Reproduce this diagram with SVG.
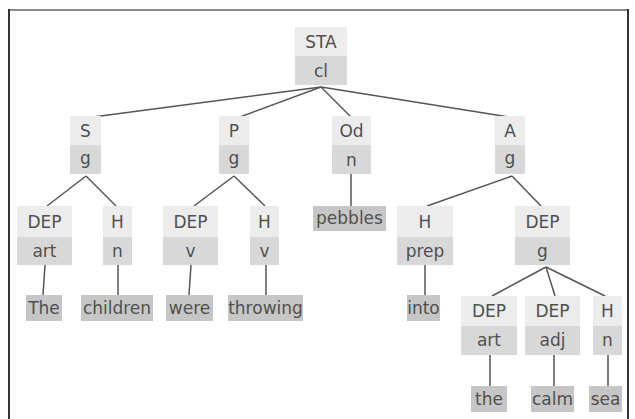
<svg xmlns="http://www.w3.org/2000/svg" width="635" height="419" viewBox="0 0 635 419">
<style>
.u{fill:#ececec}
.l{fill:#d8d8d8}
.f{fill:#c6c6c6}
text{font-family:"DejaVu Sans",sans-serif;font-size:17px;fill:#505050;text-anchor:middle}
.c line{stroke:#555;stroke-width:1.5}
</style>
<rect x="0" y="0" width="635" height="419" fill="#fff"/>
<line x1="9" y1="10" x2="629" y2="10" stroke="#888" stroke-width="2"/>
<line x1="9" y1="9" x2="9" y2="419" stroke="#333" stroke-width="2"/>
<line x1="628" y1="9" x2="628" y2="419" stroke="#333" stroke-width="2"/>
<g class="c" id="connectors">
<line x1="321" y1="87" x2="93" y2="117"/>
<line x1="321" y1="87" x2="240" y2="117"/>
<line x1="321" y1="87" x2="351" y2="117"/>
<line x1="321" y1="87" x2="509" y2="117"/>
<line x1="86" y1="176" x2="47" y2="206"/>
<line x1="86" y1="176" x2="116" y2="206"/>
<line x1="234" y1="176" x2="194" y2="206"/>
<line x1="234" y1="176" x2="265" y2="206"/>
<line x1="351" y1="174" x2="351" y2="206"/>
<line x1="512" y1="176" x2="427" y2="206"/>
<line x1="512" y1="176" x2="541" y2="206"/>
<line x1="45" y1="265" x2="43" y2="295"/>
<line x1="118" y1="265" x2="118" y2="295"/>
<line x1="191" y1="265" x2="189" y2="295"/>
<line x1="266" y1="265" x2="266" y2="295"/>
<line x1="425" y1="265" x2="425" y2="295"/>
<line x1="546" y1="267" x2="492" y2="296"/>
<line x1="546" y1="267" x2="555" y2="296"/>
<line x1="546" y1="267" x2="605" y2="296"/>
<line x1="490" y1="355" x2="490" y2="386"/>
<line x1="554" y1="355" x2="554" y2="386"/>
<line x1="608" y1="355" x2="608" y2="386"/>
</g>
<g id="sta"><rect class="u" x="295" y="27" width="52" height="29"/><rect class="l" x="295" y="56" width="52" height="29"/><text x="321" y="48">STA</text><text x="321" y="77">cl</text></g>
<g id="s"><rect class="u" x="70" y="116" width="31" height="29"/><rect class="l" x="70" y="145" width="31" height="29"/><text x="85.5" y="137">S</text><text x="85.5" y="164">g</text></g>
<g id="p"><rect class="u" x="219" y="116" width="30" height="29"/><rect class="l" x="219" y="145" width="30" height="29"/><text x="234" y="137">P</text><text x="234" y="164">g</text></g>
<g id="od"><rect class="u" x="332" y="116" width="39" height="29"/><rect class="l" x="332" y="145" width="39" height="29"/><text x="351.5" y="137">Od</text><text x="351.5" y="166">n</text></g>
<g id="a"><rect class="u" x="495" y="116" width="30" height="29"/><rect class="l" x="495" y="145" width="30" height="29"/><text x="510" y="137">A</text><text x="510" y="164">g</text></g>
<g id="dep-art"><rect class="u" x="17" y="206" width="55" height="31"/><rect class="l" x="17" y="237" width="55" height="28"/><text x="44.5" y="228">DEP</text><text x="44.5" y="257">art</text></g>
<g id="h-n"><rect class="u" x="103" y="206" width="29" height="31"/><rect class="l" x="103" y="237" width="29" height="28"/><text x="117.5" y="228">H</text><text x="117.5" y="257">n</text></g>
<g id="dep-v"><rect class="u" x="163" y="206" width="55" height="31"/><rect class="l" x="163" y="237" width="55" height="28"/><text x="190.5" y="228">DEP</text><text x="190.5" y="257">v</text></g>
<g id="h-v"><rect class="u" x="250" y="206" width="29" height="31"/><rect class="l" x="250" y="237" width="29" height="28"/><text x="264.5" y="228">H</text><text x="264.5" y="257">v</text></g>
<g id="h-prep"><rect class="u" x="397" y="206" width="56" height="31"/><rect class="l" x="397" y="237" width="56" height="28"/><text x="425" y="228">H</text><text x="425" y="257">prep</text></g>
<g id="dep-g"><rect class="u" x="515" y="206" width="55" height="31"/><rect class="l" x="515" y="237" width="55" height="28"/><text x="542.5" y="228">DEP</text><text x="542.5" y="257">g</text></g>
<g id="dep-art2"><rect class="u" x="461" y="296" width="56" height="30"/><rect class="l" x="461" y="326" width="56" height="29"/><text x="489" y="317">DEP</text><text x="489" y="346">art</text></g>
<g id="dep-adj"><rect class="u" x="525" y="296" width="55" height="30"/><rect class="l" x="525" y="326" width="55" height="29"/><text x="552.5" y="317">DEP</text><text x="552.5" y="346">adj</text></g>
<g id="h-n2"><rect class="u" x="593" y="296" width="29" height="30"/><rect class="l" x="593" y="326" width="29" height="29"/><text x="607.5" y="317">H</text><text x="607.5" y="346">n</text></g>
<g id="w-the"><rect class="f" x="26" y="295" width="36" height="26"/><text x="44" y="314">The</text></g>
<g id="w-children"><rect class="f" x="81" y="295" width="72" height="26"/><text x="117" y="314">children</text></g>
<g id="w-were"><rect class="f" x="166" y="295" width="47" height="26"/><text x="189.5" y="314">were</text></g>
<g id="w-throwing"><rect class="f" x="228" y="295" width="75" height="26"/><text x="265.5" y="314">throwing</text></g>
<g id="w-pebbles"><rect class="f" x="313" y="206" width="73" height="25"/><text x="349.5" y="224">pebbles</text></g>
<g id="w-into"><rect class="f" x="407" y="295" width="33" height="26"/><text x="423.5" y="314">into</text></g>
<g id="w-the2"><rect class="f" x="471" y="386" width="36" height="26"/><text x="489" y="405">the</text></g>
<g id="w-calm"><rect class="f" x="531" y="386" width="43" height="26"/><text x="552.5" y="405">calm</text></g>
<g id="w-sea"><rect class="f" x="589" y="386" width="33" height="26"/><text x="605.5" y="405">sea</text></g>
</svg>
